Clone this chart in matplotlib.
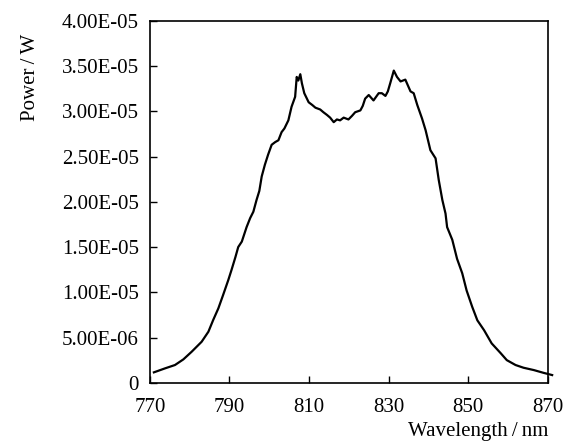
import matplotlib
matplotlib.use("Agg")
import matplotlib.pyplot as plt
from matplotlib.ticker import FixedLocator

plt.rcParams['font.family'] = ['Liberation Serif', 'DejaVu Serif']

# Emission spectrum
wavelength_nm = [771.0, 773.8, 776.3, 778.4, 780.5, 783.0, 784.7, 785.9, 787.2, 788.4,
                 789.7, 790.5, 791.5, 792.2, 793.1, 794.3, 795.2, 796.0, 796.8, 797.5,
                 798.1, 798.9, 799.7, 800.6, 801.5, 802.3, 803.1, 803.8, 804.8, 805.6,
                 806.5, 806.9, 807.3, 807.8, 808.2, 808.8, 809.9, 810.8, 811.6, 812.8,
                 813.6, 814.5, 815.3, 816.2, 817.0, 817.8, 818.7, 819.9, 820.8, 821.6,
                 822.9, 823.5, 824.1, 825.0, 825.6, 826.2, 827.5, 828.3, 829.2, 829.8,
                 830.4, 831.3, 832.1, 833.0, 834.2, 835.5, 836.3, 837.2, 838.4, 839.3,
                 840.5, 841.8, 842.6, 843.5, 844.3, 844.7, 846.0, 847.2, 848.5, 849.6,
                 851.0, 852.3, 854.0, 855.9, 858.2, 859.7, 861.9, 863.9, 866.5, 868.9,
                 871.1]
power_w = [1.15e-6, 1.59e-6, 1.96e-6, 2.58e-6, 3.43e-6, 4.53e-6, 5.64e-6, 6.93e-6, 8.22e-6, 9.70e-6,
           1.135e-5, 1.245e-5, 1.39e-5, 1.50e-5, 1.56e-5, 1.72e-5, 1.82e-5, 1.89e-5, 2.02e-5, 2.12e-5,
           2.28e-5, 2.41e-5, 2.52e-5, 2.63e-5, 2.66e-5, 2.68e-5, 2.77e-5, 2.81e-5, 2.90e-5, 3.05e-5,
           3.16e-5, 3.38e-5, 3.34e-5, 3.41e-5, 3.31e-5, 3.20e-5, 3.10e-5, 3.07e-5, 3.04e-5, 3.02e-5,
           2.99e-5, 2.96e-5, 2.93e-5, 2.88e-5, 2.91e-5, 2.90e-5, 2.93e-5, 2.91e-5, 2.95e-5, 2.99e-5,
           3.01e-5, 3.06e-5, 3.14e-5, 3.18e-5, 3.15e-5, 3.12e-5, 3.20e-5, 3.20e-5, 3.17e-5, 3.22e-5,
           3.31e-5, 3.45e-5, 3.38e-5, 3.33e-5, 3.35e-5, 3.22e-5, 3.20e-5, 3.07e-5, 2.92e-5, 2.79e-5,
           2.57e-5, 2.48e-5, 2.24e-5, 2.02e-5, 1.87e-5, 1.72e-5, 1.58e-5, 1.37e-5, 1.21e-5, 1.02e-5,
           8.4e-6, 6.9e-6, 5.8e-6, 4.35e-6, 3.25e-6, 2.5e-6, 1.96e-6, 1.66e-6, 1.40e-6, 1.10e-6,
           0.85e-6]

x_ticks = [770, 790, 810, 830, 850, 870]
y_ticks = [0, 5e-6, 1e-5, 1.5e-5, 2e-5, 2.5e-5, 3e-5, 3.5e-5, 4e-5]
y_tick_labels = ['0', '5.00E-06', '1.00E-05', '1.50E-05', '2.00E-05',
                 '2.50E-05', '3.00E-05', '3.50E-05', '4.00E-05']

fig = plt.figure(figsize=(5.70, 4.43), dpi=100)
ax = fig.add_axes([0.263, 0.136, 0.698, 0.817])

ax.plot(wavelength_nm, power_w, color='black', lw=1.6, clip_on=False)

ax.set_xlim(770, 870)
ax.set_ylim(0, 4e-5)
ax.xaxis.set_major_locator(FixedLocator(x_ticks))
ax.yaxis.set_major_locator(FixedLocator(y_ticks))
ax.set_yticklabels(y_tick_labels)
ax.set_xticklabels([str(t) for t in x_ticks])

ax.tick_params(direction='in', length=5, width=1, labelsize=15, colors='black')
ax.tick_params(axis='y', pad=8)
ax.tick_params(axis='x', pad=11)
for s in ax.spines.values():
    s.set_linewidth(1.2)

fig.text(0.053, 0.826, 'Power\u2009/\u2009W', rotation=90, ha='center', va='center', fontsize=15)
fig.text(0.962, 0.026, 'Wavelength\u2009/\u2009nm', ha='right', va='center', fontsize=15)

fig.savefig('out.png', dpi=100)
